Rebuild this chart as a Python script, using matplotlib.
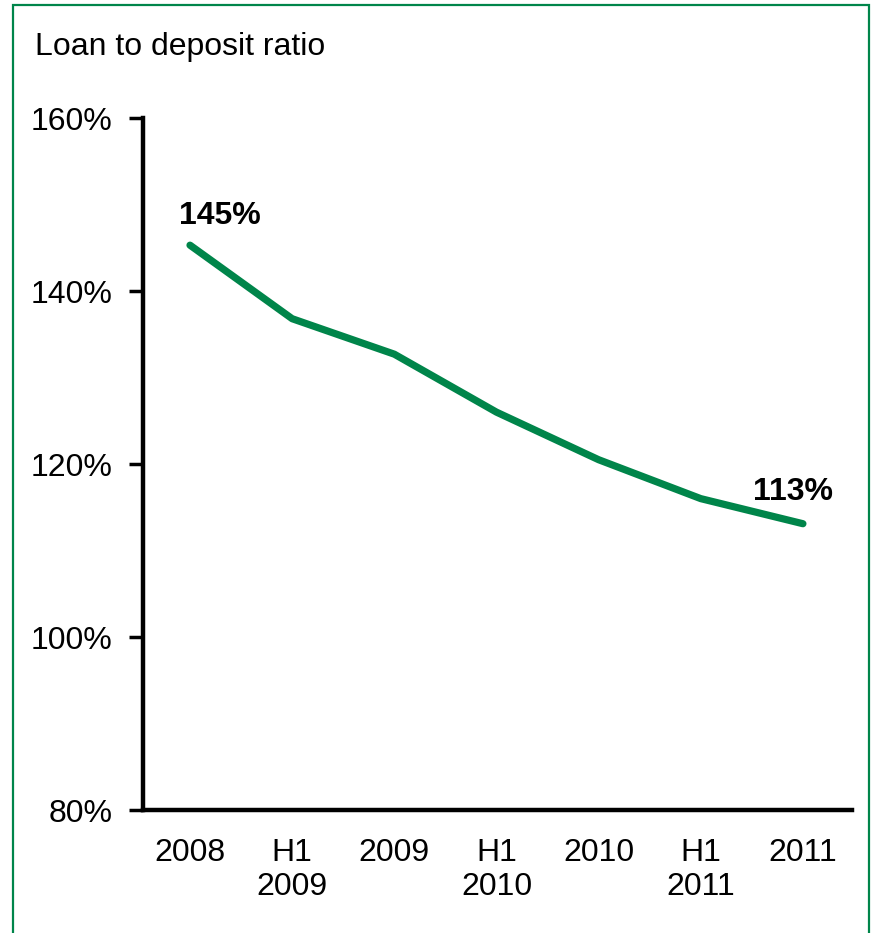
import matplotlib
matplotlib.use("Agg")
import matplotlib.pyplot as plt
from matplotlib.patches import Rectangle
from matplotlib.ticker import FuncFormatter

plt.rcParams['font.family'] = ['Liberation Sans', 'DejaVu Sans']

# data
periods = ['2008', 'H1\n2009', '2009', 'H1\n2010', '2010', 'H1\n2011', '2011']
ratio = [145.3, 136.8, 132.7, 126.0, 120.5, 116.0, 113.1]
labels = {0: '145%', 6: '113%'}
label_offsets = {0: (30, 29), 6: (-10, 32)}

green = '#00854A'

fig = plt.figure(figsize=(8.72, 9.33), dpi=100)
ax = fig.add_axes([0.164, 0.1318, 0.813, 0.7417])

x = list(range(len(periods)))
ax.plot(x, ratio, color=green, lw=5.2, solid_capstyle='round', solid_joinstyle='round')

for i, txt in labels.items():
    ax.annotate(txt, (x[i], ratio[i]), xytext=label_offsets[i], textcoords='offset pixels',
                ha='center', va='center', fontsize=23, fontweight='bold')

ax.set_xlim(-0.46, 6.48)
ax.set_ylim(80, 160)
ax.set_yticks([80, 100, 120, 140, 160])
ax.yaxis.set_major_formatter(FuncFormatter(lambda v, p: f'{v:.0f}%'))
ax.set_xticks(x)
ax.set_xticklabels(periods, linespacing=1.2)

for s in ['top', 'right']:
    ax.spines[s].set_visible(False)
for s in ['left', 'bottom']:
    ax.spines[s].set_linewidth(3.2)
ax.tick_params(axis='y', length=10, width=2.5, labelsize=23, pad=12)
ax.tick_params(axis='x', length=0, labelsize=23, pad=20)

fig.text(0.04, 1 - 47 / 933, 'Loan to deposit ratio', fontsize=23, va='center', ha='left')

fig.patches.append(Rectangle((13 / 872, -0.05), 856 / 872, 1.05 - 5 / 933, transform=fig.transFigure,
                             fill=False, edgecolor=green, lw=1.6))

fig.savefig('out.png', dpi=100)
